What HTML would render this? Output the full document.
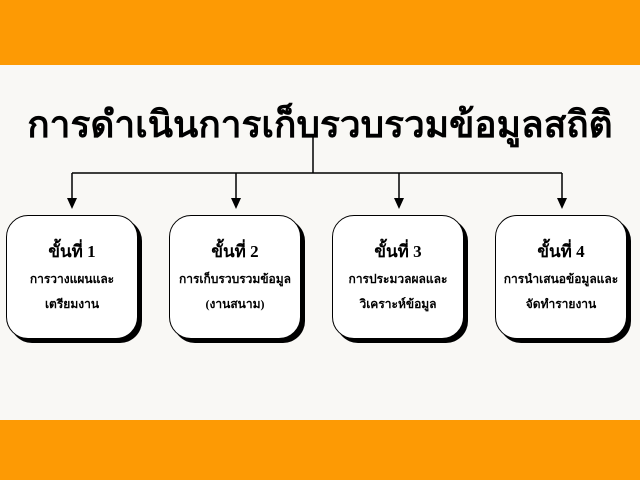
<!DOCTYPE html>
<html><head><meta charset="utf-8"><style>
body{margin:0;width:640px;height:480px;background:#f9f8f5;position:relative;overflow:hidden;font-family:"Liberation Serif","Noto Serif CJK SC",serif;}
.band{position:absolute;left:0;width:640px;background:#fd9a04;}
.title{position:absolute;left:0;top:95px;width:640px;text-align:center;font-size:37px;font-weight:bold;color:#000;white-space:nowrap;}
.box{position:absolute;top:215px;width:130px;height:122px;background:#fff;border:1px solid #000;border-radius:22px;box-shadow:4px 4px 0 #000;text-align:center;font-weight:bold;font-size:12px;color:#000;}
.box .h{font-size:17px;margin-top:25px;line-height:22px;}
.box .t{line-height:25px;margin-top:4px;}
</style></head><body>
<div class="band" style="top:0;height:65px"></div>
<div class="band" style="top:420px;height:60px"></div>
<div class="title">การดำเนินการเก็บรวบรวมข้อมูลสถิติ</div>
<svg width="640" height="480" style="position:absolute;left:0;top:0">
<g stroke="#000" stroke-width="1.5" fill="none">
<line x1="313" y1="135" x2="313" y2="173"/>
<line x1="72" y1="173" x2="562" y2="173"/>
<line x1="72" y1="173" x2="72" y2="200"/>
<line x1="236" y1="173" x2="236" y2="200"/>
<line x1="399" y1="173" x2="399" y2="200"/>
<line x1="562" y1="173" x2="562" y2="200"/>
</g>
<g fill="#000">
<polygon points="67,198 77,198 72,209"/>
<polygon points="231,198 241,198 236,209"/>
<polygon points="394,198 404,198 399,209"/>
<polygon points="557,198 567,198 562,209"/>
</g>
</svg>
<div class="box" style="left:6px"><div class="h">ขั้นที่ 1</div><div class="t">การวางแผนและ<br>เตรียมงาน</div></div>
<div class="box" style="left:169px"><div class="h">ขั้นที่ 2</div><div class="t">การเก็บรวบรวมข้อมูล<br>(งานสนาม)</div></div>
<div class="box" style="left:332px"><div class="h">ขั้นที่ 3</div><div class="t">การประมวลผลและ<br>วิเคราะห์ข้อมูล</div></div>
<div class="box" style="left:495px"><div class="h">ขั้นที่ 4</div><div class="t">การนำเสนอข้อมูลและ<br>จัดทำรายงาน</div></div>
</body></html>
